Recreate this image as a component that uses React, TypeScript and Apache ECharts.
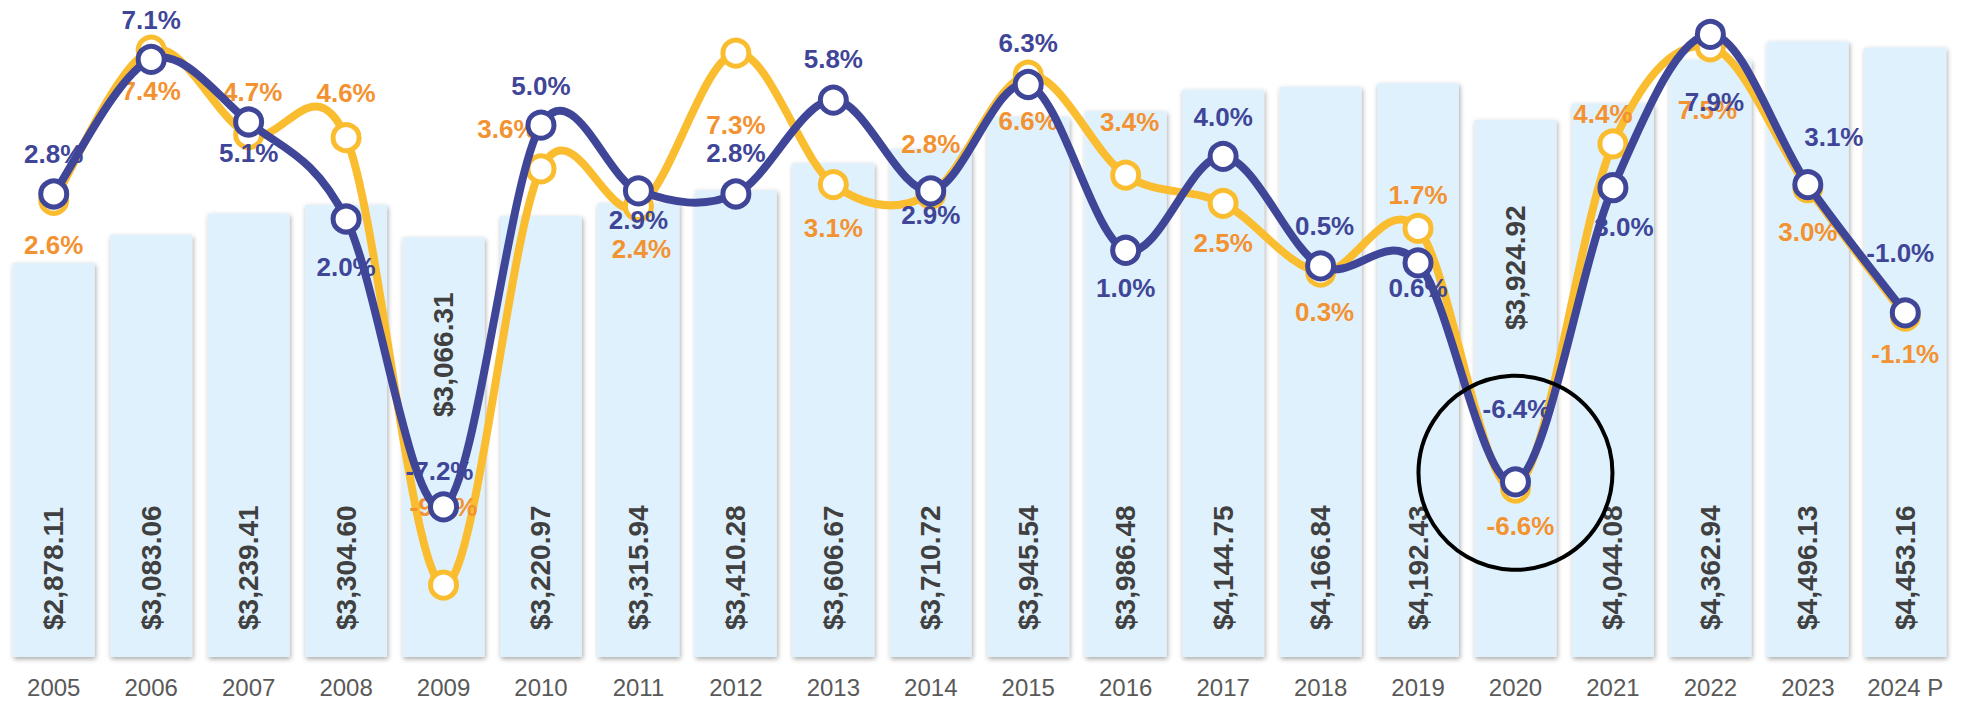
import React, { useEffect, useRef } from "react";
import * as echarts from "echarts";

const years = ["2005", "2006", "2007", "2008", "2009", "2010", "2011", "2012", "2013", "2014", "2015", "2016", "2017", "2018", "2019", "2020", "2021", "2022", "2023", "2024 P"];
const gdpValues = [2878.11, 3083.06, 3239.41, 3304.6, 3066.31, 3220.97, 3315.94, 3410.28, 3606.67, 3710.72, 3945.54, 3986.48, 4144.75, 4166.84, 4192.43, 3924.92, 4044.08, 4362.94, 4496.13, 4453.16];
const growthBlue = [2.8, 7.1, 5.1, 2.0, -7.2, 5.0, 2.9, 2.8, 5.8, 2.9, 6.3, 1.0, 4.0, 0.5, 0.6, -6.4, 3.0, 7.9, 3.1, -1.0];
const growthYellow = [2.6, 7.4, 4.7, 4.6, -9.7, 3.6, 2.4, 7.3, 3.1, 2.8, 6.6, 3.4, 2.5, 0.3, 1.7, -6.6, 4.4, 7.5, 3.0, -1.1];

// label placement (pixel offsets from the point), styling only
const blueLabelOffsets = [[0, -40], [0, -39], [0, 31], [0, 48], [-4, -36], [0, -39], [0, 29], [0, -41], [0, -41], [0, 24], [0, -41], [0, 38], [0, -39], [4, -40], [0, 25], [1, -73], [11, 39], [4, 68], [26, -48], [-5, -60]];
const yellowLabelOffsets = [[0, 45], [0, 41], [4, -43], [0, -45], [0, -78], [-34, -40], [3, 43], [0, 72], [0, 43], [0, -50], [0, 46], [4, -53], [0, 40], [4, 40], [0, -33], [5, 38], [-10, -30], [-3, 63], [0, 44], [0, 38]];
const barLabelDistances = [27, 27, 27, 27, 240, 27, 27, 27, 27, 27, 27, 27, 27, 27, 27, 327, 27, 27, 27, 27];

const BLUE = "#3F4698";
const YELLOW = "#FBBD30";
const ORANGE = "#F39230";
const FONT = "'Liberation Sans', Arial, sans-serif";

function smoothCurveSeries(vals: number[], color: string, z: number) {
  const n = vals.length;
  const clamp = (j: number) => Math.max(0, Math.min(n - 1, j));
  return {
    type: "custom",
    yAxisIndex: 1,
    coordinateSystem: "cartesian2d",
    data: vals.map((v, i) => [i, v]),
    encode: { x: 0, y: 1 },
    silent: true,
    z,
    renderItem: (params: any, api: any) => {
      const i = params.dataIndex;
      if (i >= n - 1) return null;
      const p = (j: number) => api.coord([clamp(j), vals[clamp(j)]]);
      const P0 = p(i - 1);
      const P1 = p(i);
      const P2 = p(i + 1);
      const P3 = p(i + 2);
      return {
        type: "bezierCurve",
        shape: {
          x1: P1[0],
          y1: P1[1],
          x2: P2[0],
          y2: P2[1],
          cpx1: P1[0] + (P2[0] - P0[0]) / 6,
          cpy1: P1[1] + (P2[1] - P0[1]) / 6,
          cpx2: P2[0] - (P3[0] - P1[0]) / 6,
          cpy2: P2[1] - (P3[1] - P1[1]) / 6,
        },
        style: { stroke: color, lineWidth: 8, fill: "none", lineCap: "round" },
      };
    },
  };
}

export default function App() {
  const ref = useRef<HTMLDivElement>(null);
  useEffect(() => {
    if (!ref.current) return;
    const chart = echarts.init(ref.current, undefined, { renderer: "svg" });
    const fmtMoney = (v: number) =>
      "$" + v.toLocaleString("en-US", { minimumFractionDigits: 2, maximumFractionDigits: 2 });
    const pctLabel = (color: string) => ({
      show: true,
      position: "inside",
      align: "center",
      verticalAlign: "middle",
      color,
      fontSize: 26,
      fontWeight: "bold",
      fontFamily: FONT,
      formatter: (p: any) => Number(p.value).toFixed(1) + "%",
    });
    const markerSeries = (vals: number[], offsets: number[][], color: string, labelColor: string, z: number) => ({
      type: "line",
      yAxisIndex: 1,
      symbol: "circle",
      symbolSize: 26,
      data: vals.map((v, i) => ({ value: v, label: { offset: offsets[i] } })),
      lineStyle: { color, width: 0, opacity: 0 },
      itemStyle: { color: "#ffffff", borderColor: color, borderWidth: 5 },
      label: pctLabel(labelColor),
      z,
    });
    chart.setOption({
      animation: false,
      backgroundColor: "#ffffff",
      grid: { left: 5, right: 14, top: 0, bottom: 50, containLabel: false },
      xAxis: {
        type: "category",
        data: years,
        axisLine: { show: false },
        axisTick: { show: false },
        axisLabel: { color: "#595959", fontSize: 24, fontFamily: FONT, margin: 18, interval: 0 },
        splitLine: { show: false },
      },
      yAxis: [
        { type: "value", min: 0, max: 4800, show: false },
        { type: "value", min: -12, max: 9, show: false },
      ],
      series: [
        {
          type: "bar",
          yAxisIndex: 0,
          barWidth: "84%",
          data: gdpValues.map((v, i) => ({
            value: v,
            label: { distance: barLabelDistances[i] },
          })),
          itemStyle: {
            color: "#DFF1FD",
            shadowColor: "rgba(0,0,0,0.35)",
            shadowBlur: 5,
            shadowOffsetX: 1,
            shadowOffsetY: 2,
          },
          label: {
            show: true,
            position: "insideBottom",
            rotate: 90,
            align: "left",
            verticalAlign: "middle",
            color: "#404040",
            fontSize: 28,
            fontWeight: "bold",
            fontFamily: FONT,
            formatter: (p: any) => fmtMoney(p.value),
          },
          z: 1,
        },
        smoothCurveSeries(growthYellow, YELLOW, 2),
        markerSeries(growthYellow, yellowLabelOffsets, YELLOW, ORANGE, 3),
        smoothCurveSeries(growthBlue, BLUE, 4),
        markerSeries(growthBlue, blueLabelOffsets, BLUE, BLUE, 5),
      ],
    });
    // annotation circle around the 2020 dip, positioned from the data
    const idx = years.indexOf("2020");
    const pt = chart.convertToPixel({ seriesIndex: 4 }, [idx, growthBlue[idx]]) as number[];
    chart.setOption({
      graphic: [
        {
          type: "circle",
          shape: { cx: pt[0], cy: pt[1] - 9, r: 97 },
          style: { fill: "none", stroke: "#000000", lineWidth: 4 },
          z: 100,
        },
      ],
    });
    return () => chart.dispose();
  }, []);
  return (
    <div
      ref={ref}
      style={{ position: "absolute", left: 0, top: 0, width: 1968, height: 707, background: "#fff" }}
    />
  );
}
